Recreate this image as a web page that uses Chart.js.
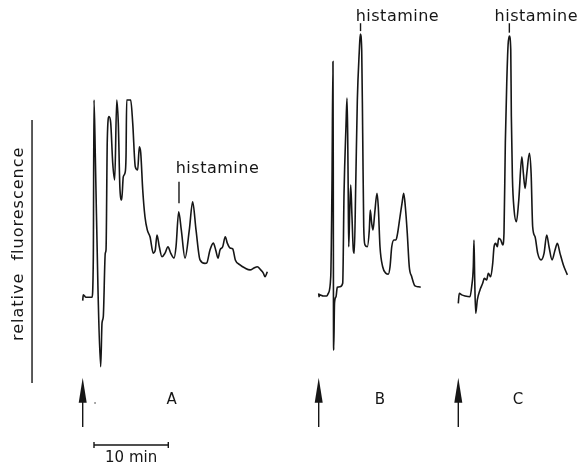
<!DOCTYPE html>
<html>
<head>
<meta charset="utf-8">
<script src="https://cdn.jsdelivr.net/npm/chart.js@4/dist/chart.umd.min.js"></script>
<style>
  body { margin: 0; background: #fff; }
  #wrap { width: 588px; height: 464px; }
</style>
</head>
<body>
<div id="wrap"><canvas id="chrom" width="588" height="464"></canvas></div>
<script>
// three HPLC runs, time in minutes after injection, signal in relative fluorescence units
const timeA = [0, 0.08, 0.44, 1.25, 1.43, 1.52, 1.70, 2.06, 2.42, 2.60, 2.77, 3.04, 3.14, 3.31, 3.54, 3.77, 4.04, 4.31, 4.58, 4.79,
  5.02, 5.25, 5.46, 5.69, 5.83, 5.92, 6.46, 6.73, 7.08, 7.40, 7.62, 7.81, 8.08, 8.38, 8.69, 9.06, 9.50, 9.77, 10.0, 10.31,
  10.67, 11.08, 11.48, 11.84, 12.29, 12.56, 12.92, 13.27, 13.77, 14.35, 14.80, 15.25, 15.79, 16.46, 16.69, 17.13, 17.58, 17.90, 18.21, 18.48,
  18.84, 19.19, 19.46, 19.83, 20.19, 20.54, 21.17, 21.84, 22.52, 23.06, 23.50, 23.96, 24.31, 24.54, 24.85];
const signalA = [31.3, 33.5, 32.6, 32.6, 48.0, 107.6, 86.0, 35.4, 6.2, 22.8, 25.2, 49.4, 50.6, 92.4, 101.3, 98.9, 83.7, 77.2, 107.6, 98.9,
  73.4, 69.6, 78.4, 79.8, 86.0, 107.6, 107.6, 98.9, 82.2, 81.0, 89.8, 87.5, 73.4, 63.2, 58.2, 55.6, 49.4, 50.6, 56.3, 51.8,
  48.0, 49.4, 51.8, 49.4, 47.5, 51.8, 65.1, 58.2, 47.5, 58.2, 68.9, 58.2, 46.8, 45.5, 45.6, 50.6, 53.2, 50.6, 47.5, 50.6,
  51.8, 55.6, 53.2, 51.3, 51.0, 46.8, 44.9, 43.7, 43.0, 43.7, 44.2, 43.0, 41.8, 40.4, 42.3];

const timeB = [0, 0.04, 0.17, 0.62, 1.08, 1.29, 1.62, 1.79, 1.92, 1.96, 1.99, 2.02, 2.13, 2.33, 2.50, 2.87, 3.23, 3.41, 3.67, 3.81,
  3.90, 3.97, 4.04, 4.17, 4.31, 4.48, 4.66, 4.79, 4.98, 5.20, 5.46, 5.60, 5.79, 5.92, 6.06, 6.23, 6.54, 6.81, 6.94, 7.13,
  7.31, 7.54, 7.85, 8.02, 8.25, 8.61, 9.06, 9.37, 9.60, 9.83, 10.13, 10.40, 10.58, 10.94, 11.21, 11.44, 11.66, 11.92, 12.19, 12.52,
  12.96, 13.41, 13.73];
const signalB = [34.1, 32.8, 33.5, 33.1, 33.1, 34.1, 40.4, 76.0, 122.2, 82.2, 24.0, 12.5, 30.4, 32.8, 36.4, 36.6, 37.9, 72.2, 97.5, 108.3,
  95.1, 73.4, 51.8, 64.6, 75.3, 63.2, 50.6, 49.4, 74.6, 107.6, 126.0, 132.7, 126.5, 95.1, 59.4, 52.5, 51.8, 58.2, 65.8, 60.8,
  58.2, 64.6, 72.1, 67.0, 51.8, 44.2, 41.7, 41.4, 44.2, 51.8, 54.4, 54.4, 56.3, 63.2, 68.3, 72.1, 67.0, 57.0, 44.2, 40.4,
  36.9, 36.6, 36.4];

const timeC = [0, 0.13, 0.46, 0.90, 1.57, 1.80, 2.02, 2.11, 2.21, 2.34, 2.56, 2.92, 3.28, 3.50, 3.82, 4.04, 4.36, 4.63, 4.81, 5.03,
  5.25, 5.44, 5.71, 5.98, 6.15, 6.33, 6.52, 6.70, 6.87, 7.06, 7.14, 7.28, 7.51, 7.82, 8.14, 8.55, 8.76, 8.99, 9.22, 9.57,
  9.80, 10.01, 10.33, 10.69, 11.14, 11.54, 11.90, 12.21, 12.62, 13.02, 13.33, 13.69, 14.14, 14.68];
const signalC = [30.3, 34.1, 33.5, 33.1, 32.8, 36.6, 44.2, 54.4, 39.2, 26.5, 31.6, 35.4, 37.9, 39.8, 39.2, 41.7, 40.4, 45.5, 51.8, 53.1,
  51.8, 55.0, 54.4, 52.5, 57.0, 91.3, 114.0, 128.5, 131.9, 126.6, 101.3, 78.4, 65.8, 61.3, 69.6, 86.0, 79.7, 74.0, 79.7, 87.3,
  79.7, 59.4, 55.6, 49.3, 46.8, 49.3, 56.3, 51.8, 46.8, 50.6, 53.1, 49.3, 44.9, 41.1];

const runLabels = ['A', 'B', 'C'];
// retention time of the histamine peak in each run
const histamineTime = [12.96, 5.63, 6.87];
const scaleBarMinutes = 10;

// page layout: where each run's injection sits and how big a minute / a unit is
const W = 588, H = 464;
const injectPx = [82.7, 318.7, 458.3];
const pxPerMin = 7.43;
const zeroPx = 383, pxPerUnit = 2.63;

const ink = '#161616';
const pts = (t, s) => t.map((v, i) => ({ x: v, y: s[i] }));
const trace = (t, s, axis) => ({
  data: pts(t, s), xAxisID: axis, yAxisID: 'y',
  borderColor: ink, borderWidth: 1.6, pointRadius: 0,
  cubicInterpolationMode: 'monotone', fill: false, clip: false
});
const timeAxis = (i) => ({
  type: 'linear', display: false,
  min: -injectPx[i] / pxPerMin, max: (W - injectPx[i]) / pxPerMin
});

// labels, arrows, scale bar and the fluorescence axis
const notes = {
  id: 'notes',
  afterDatasetsDraw(chart) {
    const ctx = chart.ctx;
    const ys = chart.scales.y;
    const axes = ['xA', 'xB', 'xC'];
    const X = (i, t) => chart.scales[axes[i]].getPixelForValue(t);
    const Y = (v) => ys.getPixelForValue(v);
    ctx.save();
    ctx.strokeStyle = ink;
    ctx.fillStyle = ink;
    ctx.lineWidth = 1.4;
    ctx.textAlign = 'center';
    ctx.textBaseline = 'middle';

    // injection arrows and run letters
    axes.forEach((id, i) => {
      const x = X(i, 0);
      ctx.beginPath();
      ctx.moveTo(x, Y(-6));
      ctx.lineTo(x, Y(-16.7));
      ctx.stroke();
      ctx.beginPath();
      ctx.moveTo(x, Y(2));
      ctx.lineTo(x - 4, Y(-7.5));
      ctx.lineTo(x + 4, Y(-7.5));
      ctx.closePath();
      ctx.fill();
      ctx.font = '15px "DejaVu Sans"';
      const letterT = [11.98, 8.25, 8.03][i];
      ctx.fillText(runLabels[i], X(i, letterT), Y(-6.5));
    });
    ctx.fillRect(X(0, 1.66) - 0.6, Y(-7.6) - 0.6, 1.2, 1.2);

    // histamine markers
    ctx.font = '16px "DejaVu Sans"';
    ctx.letterSpacing = '0.5px';
    const tick = [[68.3, 76.5], [133.8, 136.8], [133.2, 136.8]];
    const lab = [[18.14, 81.4], [10.6, 139.2], [10.5, 139.2]];
    histamineTime.forEach((t, i) => {
      const x = X(i, t);
      ctx.beginPath();
      ctx.moveTo(x, Y(tick[i][0]));
      ctx.lineTo(x, Y(tick[i][1]));
      ctx.stroke();
      ctx.fillText('histamine', X(i, lab[i][0]), Y(lab[i][1]));
    });

    // time scale bar
    const x0 = X(0, 1.52), x1 = X(0, 1.52 + scaleBarMinutes), yb = Y(-23.6);
    ctx.beginPath();
    ctx.moveTo(x0, yb); ctx.lineTo(x1, yb);
    ctx.moveTo(x0, yb - 3); ctx.lineTo(x0, yb + 3);
    ctx.moveTo(x1, yb - 3); ctx.lineTo(x1, yb + 3);
    ctx.stroke();
    ctx.letterSpacing = '0px';
    ctx.font = '15px "DejaVu Sans"';
    ctx.fillText(scaleBarMinutes + ' min', (x0 + x1) / 2, Y(-28.6));

    // fluorescence axis
    const xa = X(0, -6.82);
    ctx.beginPath();
    ctx.moveTo(xa, Y(0)); ctx.lineTo(xa, Y(100));
    ctx.stroke();
    ctx.translate(X(0, -8.64), Y(52.9));
    ctx.rotate(-Math.PI / 2);
    ctx.font = '16px "DejaVu Sans"';
    ctx.letterSpacing = '1px';
    ctx.fillText('relative  fluorescence', 0, 0);
    ctx.restore();
  }
};

new Chart(document.getElementById('chrom'), {
  type: 'line',
  data: {
    datasets: [
      trace(timeA, signalA, 'xA'),
      trace(timeB, signalB, 'xB'),
      trace(timeC, signalC, 'xC')
    ]
  },
  options: {
    responsive: false,
    animation: false,
    devicePixelRatio: 1,
    layout: { padding: 0 },
    plugins: { legend: { display: false }, tooltip: { enabled: false } },
    scales: {
      xA: timeAxis(0),
      xB: timeAxis(1),
      xC: timeAxis(2),
      y: { type: 'linear', display: false, min: -(H - zeroPx) / pxPerUnit, max: zeroPx / pxPerUnit }
    }
  },
  plugins: [notes]
});
</script>
</body>
</html>
